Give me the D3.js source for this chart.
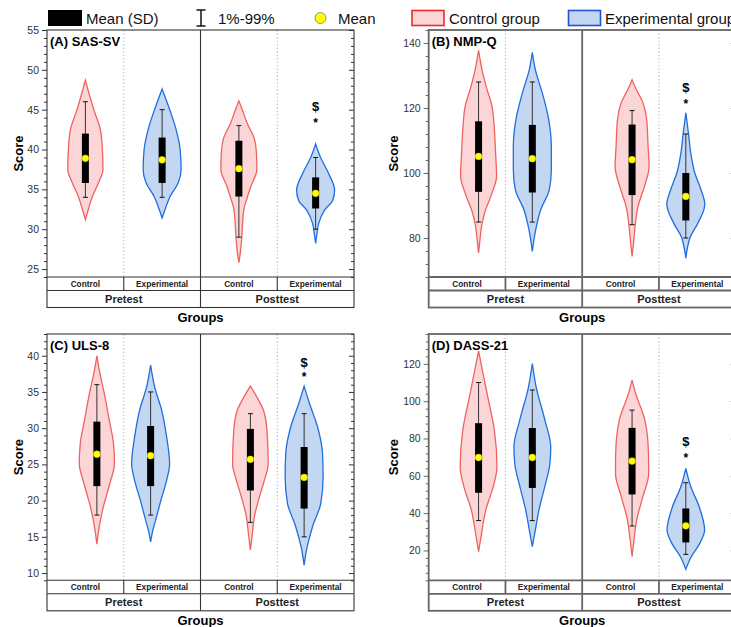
<!DOCTYPE html>
<html>
<head>
<meta charset="utf-8">
<script src="https://cdn.jsdelivr.net/npm/d3@7"></script>
<style>
body { margin: 0; background: #fff; }
text { font-family: "Liberation Sans", Arial, sans-serif; }
</style>
</head>
<body>
<div id="chart"></div>
<script>
// categories
const groups = ["Pretest", "Posttest"];
const conditions = ["Control", "Experimental"];
const panelTitles = ["(A) SAS-SV", "(B) NMP-Q", "(C) ULS-8", "(D) DASS-21"];

// axis ranges and ticks
const yDomains = [[24, 55], [68, 144], [9, 43], [4, 136]];
const yMajorTicks = [
    [25, 30, 35, 40, 45, 50, 55],
    [80, 100, 120, 140],
    [10, 15, 20, 25, 30, 35, 40],
    [20, 40, 60, 80, 100, 120]
];
const yMinorStep = [1, 4, 1, 4];

// violin outlines: [score, relative half width]
// order: Pretest Control, Pretest Experimental, Posttest Control, Posttest Experimental
const sasViolins = [
    [[48.7, 0], [47.5, 0.13], [45, 0.42], [42.5, 0.75], [40, 0.85], [37.5, 0.88], [35.8, 0.65], [34.1, 0.35], [32.5, 0.15], [31.2, 0]],
    [[47.6, 0], [45, 0.38], [42.5, 0.7], [40, 0.9], [37.5, 0.95], [35.8, 0.8], [34.1, 0.4], [32.5, 0.15], [31.4, 0]],
    [[46.1, 0], [45, 0.17], [43.4, 0.4], [41.3, 0.78], [39.5, 0.88], [37.5, 0.9], [35.5, 0.62], [34, 0.42], [32.5, 0.25], [30.5, 0.18], [28.5, 0.13], [27, 0.07], [25.8, 0]],
    [[40.7, 0], [39.1, 0.23], [37, 0.65], [34.9, 0.95], [33.6, 0.85], [32.4, 0.45], [30.7, 0.15], [29.5, 0.07], [28.2, 0]]
];
const nmpViolins = [
    [[137.7, 0], [131.8, 0.17], [126.6, 0.38], [120.5, 0.67], [114.3, 0.78], [106.2, 0.85], [99, 0.9], [93.8, 0.67], [87.7, 0.3], [83.6, 0.15], [79.5, 0.07], [75.4, 0]],
    [[137.1, 0], [131.8, 0.15], [124.6, 0.5], [116.4, 0.82], [108.2, 0.95], [101, 0.95], [94.9, 0.85], [88.7, 0.42], [82.6, 0.17], [75.9, 0]],
    [[128.7, 0], [126.6, 0.14], [121.5, 0.55], [116.4, 0.73], [108.2, 0.8], [102, 0.85], [95.9, 0.62], [89.7, 0.3], [83.6, 0.15], [79, 0.08], [74.3, 0]],
    [[118.5, 0], [112.3, 0.13], [106, 0.25], [100, 0.45], [95, 0.75], [90.3, 0.95], [84.5, 0.6], [80.3, 0.22], [77, 0.08], [73.8, 0]]
];
const ulsViolins = [
    [[40, 0], [38, 0.12], [34.8, 0.37], [31.1, 0.62], [27.9, 0.83], [25.1, 0.88], [22.4, 0.65], [19.1, 0.32], [16.9, 0.15], [14, 0]],
    [[38.7, 0], [35.7, 0.2], [32.5, 0.55], [28.8, 0.8], [25.1, 0.95], [22.8, 0.8], [20.1, 0.52], [17.3, 0.25], [16, 0.12], [14.3, 0]],
    [[35.8, 0], [34.8, 0.22], [32.5, 0.65], [29.7, 0.83], [25.1, 0.89], [22.8, 0.7], [20.5, 0.45], [17.8, 0.2], [15.5, 0.1], [13.2, 0]],
    [[35.8, 0], [33.4, 0.27], [30.2, 0.67], [26.5, 0.92], [23.3, 0.95], [19.6, 0.83], [16.4, 0.42], [13.6, 0.15], [11.1, 0]]
];
const dassViolins = [
    [[127, 0], [116.6, 0.19], [102.3, 0.46], [84.5, 0.79], [64.8, 0.92], [54.1, 0.73], [41.6, 0.36], [29.2, 0.15], [19.3, 0]],
    [[120.2, 0], [107.7, 0.19], [89.8, 0.63], [75.5, 0.92], [66.6, 0.88], [54.1, 0.62], [41.6, 0.33], [30.9, 0.15], [22, 0]],
    [[111.3, 0], [104.1, 0.18], [89.8, 0.64], [72, 0.82], [61.3, 0.83], [48.8, 0.54], [36.3, 0.23], [26, 0.1], [16.6, 0]],
    [[64, 0], [54.1, 0.25], [43.4, 0.67], [30.9, 0.94], [23.8, 0.7], [16.6, 0.27], [9.9, 0]]
];

// summary statistics per panel (same order as violins)
const means = [[38.9, 38.7, 37.6, 34.5], [105.1, 104.4, 104.1, 92.8], [26.4, 26.2, 25.7, 23.2], [69.8, 69.8, 67.9, 33.2]];
const sdHigh = [[42.0, 41.5, 41.1, 36.5], [115.9, 114.8, 114.9, 100], [30.9, 30.3, 29.9, 27.4], [88.2, 85.6, 85.7, 42.5]];
const sdLow = [[35.8, 35.8, 34.1, 32.6], [94.2, 94.0, 93.2, 85.4], [22.0, 22.0, 21.4, 18.9], [50.9, 53.5, 50.0, 24.3]];
const p99 = [[46, 45, 43, 39], [128, 128, 119.2, 112], [36, 35, 32, 32], [110, 106, 95.2, 56.3]];
const p1 = [[34, 34, 29, 30], [84.9, 84.9, 84.1, 80], [18, 18, 17, 15], [36, 36, 33.1, 17.9]];

// significance marks above the posttest experimental violin: [$ position, * position]
const sigMarks = [[45.4, 43.6], [126.2, 122.0], [39.1, 37.4], [78.2, 71.1]];

const legendLabels = ["Mean (SD)", "1%-99%", "Mean", "Control group", "Experimental group"];

const allViolins = [sasViolins, nmpViolins, ulsViolins, dassViolins];

const width = 731, height = 627;
const svg = d3.select("#chart").append("svg")
    .attr("width", width)
    .attr("height", height);

const redStroke = "#f0625f", redFill = "#fcd6d6";
const blueStroke = "#1f6fde", blueFill = "#c3d7f2";

const panels = [
    {left: 47, top: 30, plotH: 247, inset: 0, frame: "#333", frameW: 1.1},
    {left: 428.7, top: 30, plotH: 247, inset: 11.5, frame: "#666", frameW: 1.8},
    {left: 47, top: 334, plotH: 246.3, inset: 11.5, frame: "#333", frameW: 1.1},
    {left: 428.7, top: 334, plotH: 246.3, inset: 11.5, frame: "#666", frameW: 1.8}
];

const panelW = 307, catRowH = 13.5, grpRowH = 17;

panels.forEach(function (p, k) {
    const g = svg.append("g");
    const plotBottom = p.top + p.plotH;
    const catBottom = plotBottom + catRowH;
    const grpBottom = catBottom + grpRowH;
    const right = p.left + panelW;

    const col = d3.scaleBand()
        .domain(d3.range(4))
        .range([p.left, right]);
    const bw = col.bandwidth();

    const y = d3.scaleLinear()
        .domain(yDomains[k])
        .range([plotBottom, p.top]);

    const w = d3.scaleLinear().domain([0, 1]).range([0, 20]);

    const cx = function (i) {
        return col(i) + bw / 2 + (i % 2 === 0 ? p.inset : -p.inset);
    };

    // dotted separators between conditions
    [1, 3].forEach(function (i) {
        g.append("line")
            .attr("x1", col(i)).attr("x2", col(i))
            .attr("y1", p.top).attr("y2", plotBottom)
            .attr("stroke", "#aaa")
            .attr("stroke-width", 0.8)
            .attr("stroke-dasharray", "1.5,2");
    });

    // violins
    allViolins[k].forEach(function (v, i) {
        const c = cx(i);
        const area = d3.area()
            .y(d => y(d[0]))
            .x0(d => c - w(d[1]))
            .x1(d => c + w(d[1]))
            .curve(d3.curveMonotoneY);
        const isCtrl = i % 2 === 0;
        g.append("path")
            .datum(v)
            .attr("d", area)
            .attr("fill", isCtrl ? redFill : blueFill)
            .attr("stroke", isCtrl ? redStroke : blueStroke)
            .attr("stroke-width", 1.3);
    });

    // whiskers, sd box, mean
    d3.range(4).forEach(function (i) {
        const c = cx(i);
        g.append("line")
            .attr("x1", c).attr("x2", c)
            .attr("y1", y(p99[k][i])).attr("y2", y(p1[k][i]))
            .attr("stroke", "#333").attr("stroke-width", 1);
        [p99[k][i], p1[k][i]].forEach(function (val) {
            g.append("line")
                .attr("x1", c - 2.5).attr("x2", c + 2.5)
                .attr("y1", y(val)).attr("y2", y(val))
                .attr("stroke", "#111").attr("stroke-width", 1);
        });
        g.append("rect")
            .attr("x", c - 3.5)
            .attr("y", y(sdHigh[k][i]))
            .attr("width", 7)
            .attr("height", y(sdLow[k][i]) - y(sdHigh[k][i]))
            .attr("fill", "#000");
        g.append("circle")
            .attr("cx", c).attr("cy", y(means[k][i]))
            .attr("r", 3.4)
            .attr("fill", "#ffff00")
            .attr("stroke", "#d8c800")
            .attr("stroke-width", 0.5);
    });

    // significance marks
    const sc = cx(3);
    g.append("text")
        .attr("x", sc).attr("y", y(sigMarks[k][0]) + 4.5)
        .attr("text-anchor", "middle")
        .style("font-size", "13px").style("font-weight", "bold")
        .text("$");
    g.append("text")
        .attr("x", sc).attr("y", y(sigMarks[k][1]) + 6.5)
        .attr("text-anchor", "middle")
        .style("font-size", "12px").style("font-weight", "bold")
        .text("*");

    // frame and category rows
    g.append("rect")
        .attr("x", p.left).attr("y", p.top)
        .attr("width", panelW).attr("height", grpBottom - p.top)
        .attr("fill", "none")
        .attr("stroke", p.frame).attr("stroke-width", p.frameW);
    [plotBottom, catBottom].forEach(function (yy) {
        g.append("line")
            .attr("x1", p.left).attr("x2", right)
            .attr("y1", yy).attr("y2", yy)
            .attr("stroke", p.frame).attr("stroke-width", p.frameW);
    });
    g.append("line")
        .attr("x1", col(2)).attr("x2", col(2))
        .attr("y1", p.top).attr("y2", grpBottom)
        .attr("stroke", p.frame).attr("stroke-width", p.frameW);
    [1, 3].forEach(function (i) {
        g.append("line")
            .attr("x1", col(i)).attr("x2", col(i))
            .attr("y1", plotBottom).attr("y2", catBottom)
            .attr("stroke", p.frame).attr("stroke-width", p.frameW);
    });

    d3.range(4).forEach(function (i) {
        g.append("text")
            .attr("x", col(i) + bw / 2)
            .attr("y", catBottom - 3.5)
            .attr("text-anchor", "middle")
            .style("font-size", "8.3px").style("font-weight", "bold")
            .attr("fill", "#222")
            .text(conditions[i % 2]);
    });
    groups.forEach(function (gr, j) {
        g.append("text")
            .attr("x", p.left + panelW / 4 + j * panelW / 2)
            .attr("y", grpBottom - 4.5)
            .attr("text-anchor", "middle")
            .style("font-size", "11px").style("font-weight", "bold")
            .attr("fill", "#222")
            .text(gr);
    });

    // y axis, left side
    const minor = d3.range(yDomains[k][0], yDomains[k][1] + 0.01, yMinorStep[k])
        .filter(d => yMajorTicks[k].indexOf(d) < 0);

    const leftAxis = g.append("g")
        .attr("transform", "translate(" + p.left + ",0)")
        .call(d3.axisLeft(y).tickValues(yMajorTicks[k]).tickSize(5).tickPadding(3));
    leftAxis.select(".domain").remove();
    leftAxis.selectAll("line").attr("stroke", p.frame);
    leftAxis.selectAll("text")
        .style("font-size", "10.5px")
        .style("font-family", "'Liberation Sans', Arial, sans-serif")
        .attr("fill", "#333");

    const leftMinor = g.append("g")
        .attr("transform", "translate(" + p.left + ",0)")
        .call(d3.axisLeft(y).tickValues(minor).tickSize(3).tickFormat(""));
    leftMinor.select(".domain").remove();
    leftMinor.selectAll("line").attr("stroke", p.frame);

    // mirrored ticks on the right border, pointing inwards
    const rightAxis = g.append("g")
        .attr("transform", "translate(" + right + ",0)")
        .call(d3.axisLeft(y).tickValues(yMajorTicks[k]).tickSize(5).tickFormat(""));
    rightAxis.select(".domain").remove();
    rightAxis.selectAll("line").attr("stroke", p.frame);
    const rightMinor = g.append("g")
        .attr("transform", "translate(" + right + ",0)")
        .call(d3.axisLeft(y).tickValues(minor).tickSize(3).tickFormat(""));
    rightMinor.select(".domain").remove();
    rightMinor.selectAll("line").attr("stroke", p.frame);

    // titles
    g.append("text")
        .attr("x", p.left + 3).attr("y", p.top + 15.5)
        .style("font-size", "13px").style("font-weight", "bold")
        .text(panelTitles[k]);

    const yLabelX = k % 2 === 0 ? p.left - 28.5 : p.left - 35.5;
    g.append("text")
        .attr("transform", "translate(" + yLabelX + "," + (p.top + p.plotH / 2) + ") rotate(-90)")
        .attr("text-anchor", "middle")
        .attr("dy", "0.35em")
        .style("font-size", "13px").style("font-weight", "bold")
        .text("Score");

    g.append("text")
        .attr("x", p.left + panelW / 2).attr("y", grpBottom + 14)
        .attr("text-anchor", "middle")
        .style("font-size", "13px").style("font-weight", "bold")
        .text("Groups");
});

// legend
const lg = svg.append("g");
lg.append("rect").attr("x", 48).attr("y", 10).attr("width", 34).attr("height", 16).attr("fill", "#000");
lg.append("line").attr("x1", 201).attr("x2", 201).attr("y1", 10).attr("y2", 26).attr("stroke", "#111").attr("stroke-width", 1.5);
lg.append("line").attr("x1", 196.5).attr("x2", 205.5).attr("y1", 10).attr("y2", 10).attr("stroke", "#111").attr("stroke-width", 1.5);
lg.append("line").attr("x1", 196.5).attr("x2", 205.5).attr("y1", 26).attr("y2", 26).attr("stroke", "#111").attr("stroke-width", 1.5);
lg.append("circle").attr("cx", 320.5).attr("cy", 18).attr("r", 5.5).attr("fill", "#ffff00").attr("stroke", "#777").attr("stroke-width", 0.8);
lg.append("rect").attr("x", 412).attr("y", 10.5).attr("width", 32).attr("height", 15).attr("fill", redFill).attr("stroke", "#ee2a2a").attr("stroke-width", 1.6);
lg.append("rect").attr("x", 568.5).attr("y", 10.5).attr("width", 32).attr("height", 15).attr("fill", blueFill).attr("stroke", "#2150d8").attr("stroke-width", 1.6);

const legendX = [86, 218, 338, 449, 605];
legendLabels.forEach(function (t, i) {
    lg.append("text")
        .attr("x", legendX[i]).attr("y", 23.5)
        .style("font-size", "15px")
        .attr("fill", "#111")
        .text(t);
});
</script>
</body>
</html>
